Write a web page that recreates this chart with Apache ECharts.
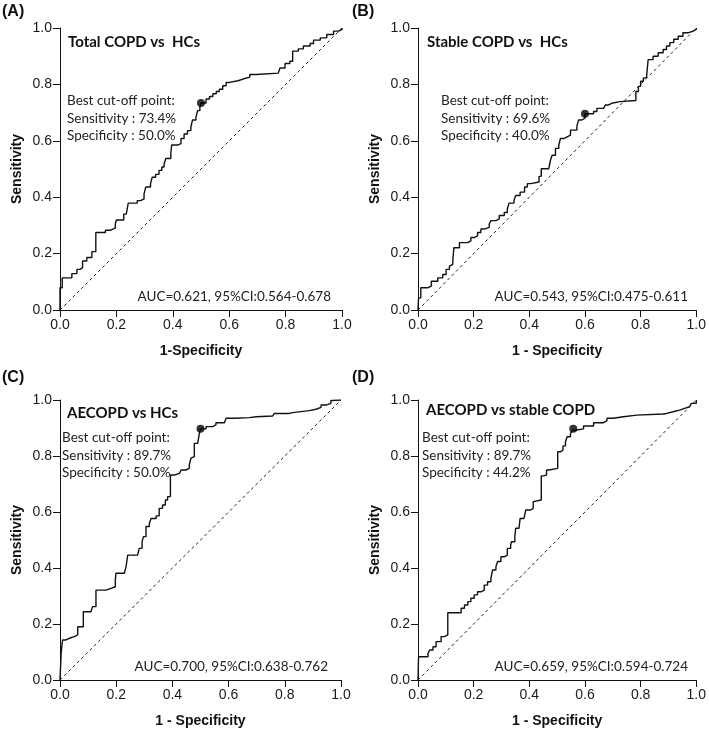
<!DOCTYPE html>
<html>
<head>
<meta charset="utf-8">
<script src="https://cdn.jsdelivr.net/npm/echarts@6/dist/echarts.min.js"></script>
<style>html,body{margin:0;padding:0;background:#fff;}#c{width:709px;height:729px;}</style>
</head>
<body>
<div id="c"></div>
<script>
// ROC curves: [1-specificity, sensitivity]
const rocA = [[0,0],[0,0.079],[0.008,0.114],[0.042,0.129],[0.060,0.144],[0.071,0.150],[0.080,0.174],[0.095,0.186],[0.113,0.207],[0.127,0.275],[0.161,0.283],[0.179,0.290],[0.196,0.305],[0.200,0.319],[0.226,0.340],[0.235,0.346],[0.242,0.379],[0.274,0.388],[0.286,0.394],[0.298,0.412],[0.304,0.436],[0.321,0.448],[0.327,0.471],[0.339,0.481],[0.351,0.495],[0.361,0.507],[0.369,0.517],[0.375,0.537],[0.393,0.555],[0.396,0.585],[0.417,0.590],[0.429,0.608],[0.440,0.624],[0.452,0.636],[0.464,0.648],[0.470,0.674],[0.482,0.683],[0.488,0.707],[0.496,0.719],[0.5,0.734],[0.518,0.748],[0.530,0.757],[0.542,0.767],[0.554,0.775],[0.565,0.783],[0.577,0.795],[0.589,0.807],[0.601,0.813],[0.631,0.819],[0.649,0.826],[0.673,0.835],[0.696,0.840],[0.774,0.846],[0.780,0.858],[0.798,0.874],[0.815,0.882],[0.825,0.918],[0.845,0.926],[0.863,0.936],[0.887,0.945],[0.899,0.957],[0.923,0.965],[0.946,0.977],[0.970,0.989],[0.988,0.995],[1.0,1.0]];
const rocB = [[0,0],[0.002,0.043],[0.010,0.079],[0.036,0.085],[0.048,0.102],[0.071,0.114],[0.089,0.126],[0.101,0.144],[0.113,0.156],[0.119,0.162],[0.125,0.174],[0.129,0.221],[0.149,0.239],[0.179,0.245],[0.190,0.257],[0.202,0.263],[0.214,0.275],[0.226,0.287],[0.238,0.293],[0.256,0.305],[0.262,0.317],[0.280,0.323],[0.292,0.335],[0.310,0.346],[0.321,0.358],[0.327,0.379],[0.345,0.388],[0.351,0.406],[0.367,0.418],[0.383,0.436],[0.393,0.448],[0.405,0.454],[0.435,0.474],[0.443,0.501],[0.470,0.507],[0.476,0.531],[0.482,0.549],[0.494,0.573],[0.506,0.585],[0.512,0.608],[0.524,0.614],[0.536,0.620],[0.548,0.638],[0.571,0.652],[0.577,0.674],[0.589,0.680],[0.6,0.696],[0.631,0.704],[0.643,0.715],[0.667,0.719],[0.673,0.727],[0.685,0.733],[0.696,0.739],[0.726,0.743],[0.783,0.775],[0.792,0.793],[0.800,0.811],[0.810,0.823],[0.821,0.829],[0.827,0.888],[0.845,0.900],[0.863,0.912],[0.881,0.924],[0.893,0.936],[0.905,0.948],[0.919,0.960],[0.935,0.971],[0.952,0.983],[0.970,0.989],[0.988,0.995],[1.0,1.0]];
const rocC = [[0,0],[0.004,0.095],[0.009,0.143],[0.021,0.149],[0.033,0.155],[0.051,0.161],[0.063,0.190],[0.083,0.244],[0.110,0.250],[0.116,0.262],[0.128,0.321],[0.164,0.327],[0.181,0.333],[0.197,0.357],[0.199,0.381],[0.229,0.387],[0.235,0.405],[0.241,0.446],[0.276,0.452],[0.282,0.470],[0.292,0.494],[0.297,0.512],[0.306,0.548],[0.318,0.560],[0.324,0.577],[0.342,0.586],[0.353,0.613],[0.365,0.625],[0.375,0.643],[0.383,0.655],[0.393,0.732],[0.407,0.738],[0.425,0.744],[0.431,0.750],[0.448,0.756],[0.460,0.768],[0.466,0.792],[0.472,0.798],[0.478,0.845],[0.490,0.851],[0.496,0.881],[0.5,0.897],[0.520,0.905],[0.543,0.911],[0.555,0.919],[0.585,0.926],[0.591,0.935],[0.626,0.937],[0.674,0.940],[0.698,0.943],[0.757,0.946],[0.763,0.952],[0.816,0.955],[0.828,0.962],[0.887,0.967],[0.911,0.974],[0.929,0.982],[0.947,0.988],[0.964,0.998],[0.970,1.0],[1.0,1.0]];
const rocD = [[0,0],[0.002,0.083],[0.036,0.095],[0.042,0.107],[0.054,0.119],[0.065,0.137],[0.083,0.155],[0.095,0.161],[0.107,0.240],[0.155,0.256],[0.167,0.268],[0.179,0.280],[0.190,0.292],[0.202,0.304],[0.214,0.315],[0.226,0.321],[0.238,0.339],[0.250,0.351],[0.262,0.363],[0.268,0.393],[0.280,0.405],[0.286,0.423],[0.298,0.440],[0.310,0.446],[0.321,0.470],[0.333,0.482],[0.336,0.494],[0.348,0.512],[0.351,0.542],[0.363,0.548],[0.367,0.577],[0.381,0.583],[0.387,0.607],[0.405,0.613],[0.414,0.637],[0.417,0.643],[0.443,0.729],[0.452,0.732],[0.462,0.750],[0.470,0.756],[0.502,0.815],[0.512,0.821],[0.521,0.836],[0.530,0.851],[0.536,0.869],[0.548,0.881],[0.554,0.890],[0.558,0.897],[0.595,0.907],[0.631,0.919],[0.667,0.926],[0.679,0.935],[0.702,0.940],[0.738,0.946],[0.786,0.950],[0.881,0.952],[0.893,0.958],[0.917,0.964],[0.940,0.970],[0.958,0.976],[0.976,0.982],[0.982,0.988],[1.0,1.0]];
// best cut-off points [1-specificity, sensitivity]
const cutA = [0.500, 0.734];
const cutB = [0.600, 0.696];
const cutC = [0.500, 0.897];
const cutD = [0.558, 0.897];
const diagonal = [[0,0],[1,1]];
const tickValues = [0, 0.2, 0.4, 0.6, 0.8, 1.0];
const panelLetters = ['(A)', '(B)', '(C)', '(D)'];
const panelTitles = ['Total COPD vs  HCs', 'Stable COPD vs  HCs', 'AECOPD vs HCs', 'AECOPD vs stable COPD'];
const xTitles = ['1-Specificity', '1 - Specificity', '1 - Specificity', '1 - Specificity'];
const yTitle = 'Sensitivity';
const cutLines = [
  ['Best cut-off point:', 'Sensitivity : 73.4%', 'Specificity : 50.0%'],
  ['Best cut-off point:', 'Sensitivity : 69.6%', 'Specificity : 40.0%'],
  ['Best cut-off point:', 'Sensitivity : 89.7%', 'Specificity : 50.0%'],
  ['Best cut-off point:', 'Sensitivity : 89.7%', 'Specificity : 44.2%']
];
const aucTexts = ['AUC=0.621, 95%CI:0.564-0.678', 'AUC=0.543, 95%CI:0.475-0.611', 'AUC=0.700, 95%CI:0.638-0.762', 'AUC=0.659, 95%CI:0.594-0.724'];

const rocs = [rocA, rocB, rocC, rocD];
const cuts = [cutA, cutB, cutC, cutD];

// layout (pixels)
const grids = [
  {left: 60, top: 28, width: 282, height: 282},
  {left: 418, top: 28, width: 280, height: 282},
  {left: 60, top: 400, width: 281, height: 282},
  {left: 418, top: 400, width: 280, height: 281}
];
const letterPos = [[2, 4], [352, 4], [2, 370], [352, 370]];
const titlePos = [[68, 35], [427, 35], [67, 406], [426, 403]];
const cutPos = [[67, 92], [441, 92], [62, 429], [422, 429]];
const aucPos = [[331, 290], [688, 290], [328, 660], [688, 660]];

const axisFont = 'Liberation Sans, Arial, sans-serif';
const textFont = 'Lato, Carlito, Calibri, sans-serif';

const option = {
  animation: false,
  backgroundColor: '#fff',
  grid: grids.map(g => Object.assign({containLabel: false}, g)),
  xAxis: grids.map((g, i) => ({
    gridIndex: i, type: 'value', min: 0, max: 1, interval: 0.2,
    name: xTitles[i], nameLocation: 'middle', nameGap: 34,
    nameTextStyle: {fontFamily: axisFont, fontWeight: 'bold', fontSize: 14, color: '#111'},
    axisLine: {show: true, onZero: false, lineStyle: {color: '#111', width: 1}},
    axisTick: {show: true, length: 7, lineStyle: {color: '#111'}},
    axisLabel: {fontFamily: axisFont, fontSize: 14, color: '#1a1a1a', margin: 8, formatter: v => v.toFixed(1)},
    splitLine: {show: false}
  })),
  yAxis: grids.map((g, i) => ({
    gridIndex: i, type: 'value', min: 0, max: 1, interval: 0.2,
    name: yTitle, nameLocation: 'middle', nameGap: 36,
    nameTextStyle: {fontFamily: axisFont, fontWeight: 'bold', fontSize: 14, color: '#111'},
    axisLine: {show: true, onZero: false, lineStyle: {color: '#111', width: 1}},
    axisTick: {show: true, length: 7, lineStyle: {color: '#111'}},
    axisLabel: {fontFamily: axisFont, fontSize: 14, color: '#1a1a1a', margin: 8, formatter: v => v.toFixed(1)},
    splitLine: {show: false}
  })),
  series: [],
  graphic: []
};

rocs.forEach((roc, i) => {
  option.series.push({
    type: 'line', xAxisIndex: i, yAxisIndex: i, data: diagonal,
    symbol: 'none', silent: true,
    lineStyle: {color: '#222', width: 1, type: [3, 3]}
  });
  option.series.push({
    type: 'line', xAxisIndex: i, yAxisIndex: i, data: roc,
    step: 'end', symbol: 'none', silent: true,
    lineStyle: {color: '#111', width: 1.4}
  });
  option.series.push({
    type: 'scatter', xAxisIndex: i, yAxisIndex: i, data: [cuts[i]],
    symbol: 'circle', symbolSize: 8, silent: true,
    itemStyle: {color: '#000'}, z: 5
  });
  option.graphic.push({
    type: 'text', left: letterPos[i][0], top: letterPos[i][1],
    style: {text: panelLetters[i], font: 'bold 16px ' + axisFont, fill: '#111'}
  });
  option.graphic.push({
    type: 'text', left: titlePos[i][0], top: titlePos[i][1],
    style: {text: panelTitles[i], font: 'bold 15px ' + textFont, fill: '#111'}
  });
  option.graphic.push({
    type: 'text', left: cutPos[i][0], top: cutPos[i][1],
    style: {text: cutLines[i].join('\n'), font: '13.5px ' + textFont, fill: '#222', lineHeight: 17.5}
  });
  option.graphic.push({
    type: 'text', x: aucPos[i][0], y: aucPos[i][1],
    style: {text: aucTexts[i], font: '13.5px ' + textFont, fill: '#222', align: 'right', verticalAlign: 'top'}
  });
});

const chart = echarts.init(document.getElementById('c'), null, {renderer: 'canvas'});
chart.setOption(option);
</script>
</body>
</html>
